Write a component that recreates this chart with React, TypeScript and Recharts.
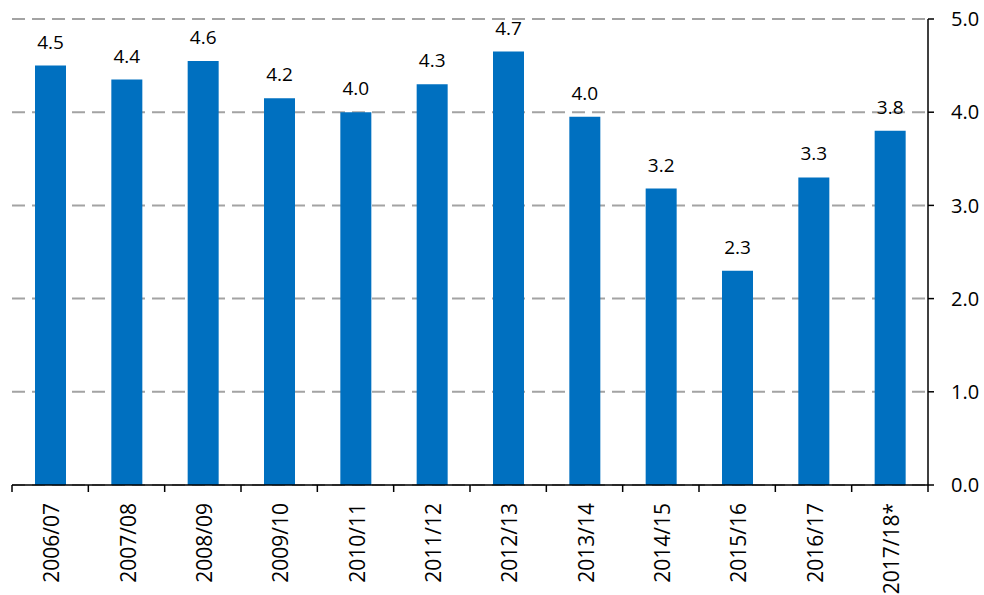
import React from 'react';
import { BarChart, Bar, XAxis, YAxis, CartesianGrid, LabelList } from 'recharts';

const years = ['2006/07', '2007/08', '2008/09', '2009/10', '2010/11', '2011/12', '2012/13', '2013/14', '2014/15', '2015/16', '2016/17', '2017/18*'];
const values = [4.5, 4.35, 4.55, 4.15, 4.0, 4.3, 4.65, 3.95, 3.18, 2.3, 3.3, 3.8];
const valueLabels = ['4.5', '4.4', '4.6', '4.2', '4.0', '4.3', '4.7', '4.0', '3.2', '2.3', '3.3', '3.8'];
const yTicks = [0, 1, 2, 3, 4, 5];

const data = years.map((name, i) => ({ name, value: values[i], label: valueLabels[i] }));

const FONT = '"Open Sans", sans-serif';

// category label rotated, with the tick marks drawn at the band edges
function YearTick(props: any) {
  const { x, y, payload, index } = props;
  const half = payload?.offset ?? 38;
  const axisY = y - 8;
  return (
    <g>
      <line x1={x - half} y1={axisY} x2={x - half} y2={axisY + 7} stroke="#000" strokeWidth={1.5} />
      {index === years.length - 1 && (
        <line x1={x + half} y1={axisY} x2={x + half} y2={axisY + 7} stroke="#000" strokeWidth={1.5} />
      )}
      <text
        x={x + 1}
        y={y + 10}
        transform={`rotate(-90, ${x + 1}, ${y + 10})`}
        textAnchor="end"
        dominantBaseline="central"
        fontSize={21}
        fontFamily={FONT}
        fill="#000"
      >
        {payload.value}
      </text>
    </g>
  );
}

export default function App() {
  return (
    <div style={{ position: 'absolute', left: 0, top: 0, width: 984, height: 595, background: '#fff' }}>
      <BarChart width={984} height={595} data={data} margin={{ top: 19, right: 0, left: 12, bottom: 0 }}>
        <CartesianGrid vertical={false} stroke="#a3a3a3" strokeWidth={2} strokeDasharray="13 7" />
        <XAxis
          dataKey="name"
          height={110}
          tickLine={false}
          axisLine={{ stroke: '#000', strokeWidth: 1.5 }}
          interval={0}
          tick={<YearTick />}
        />
        <YAxis
          orientation="right"
          width={56}
          domain={[0, 5]}
          ticks={yTicks}
          tickFormatter={(v: number) => v.toFixed(1)}
          axisLine={{ stroke: '#000', strokeWidth: 1.5 }}
          tickLine={{ stroke: '#000', strokeWidth: 1.5 }}
          tickSize={6}
          tickMargin={17}
          tick={{ fontSize: 20, fontFamily: FONT, fill: '#000' }}
        />
        <Bar dataKey="value" fill="#0070c0" barSize={31} isAnimationActive={false}>
          <LabelList dataKey="label" position="top" offset={17} style={{ fontSize: 19, fontFamily: FONT, fill: '#000' }} />
        </Bar>
      </BarChart>
    </div>
  );
}
